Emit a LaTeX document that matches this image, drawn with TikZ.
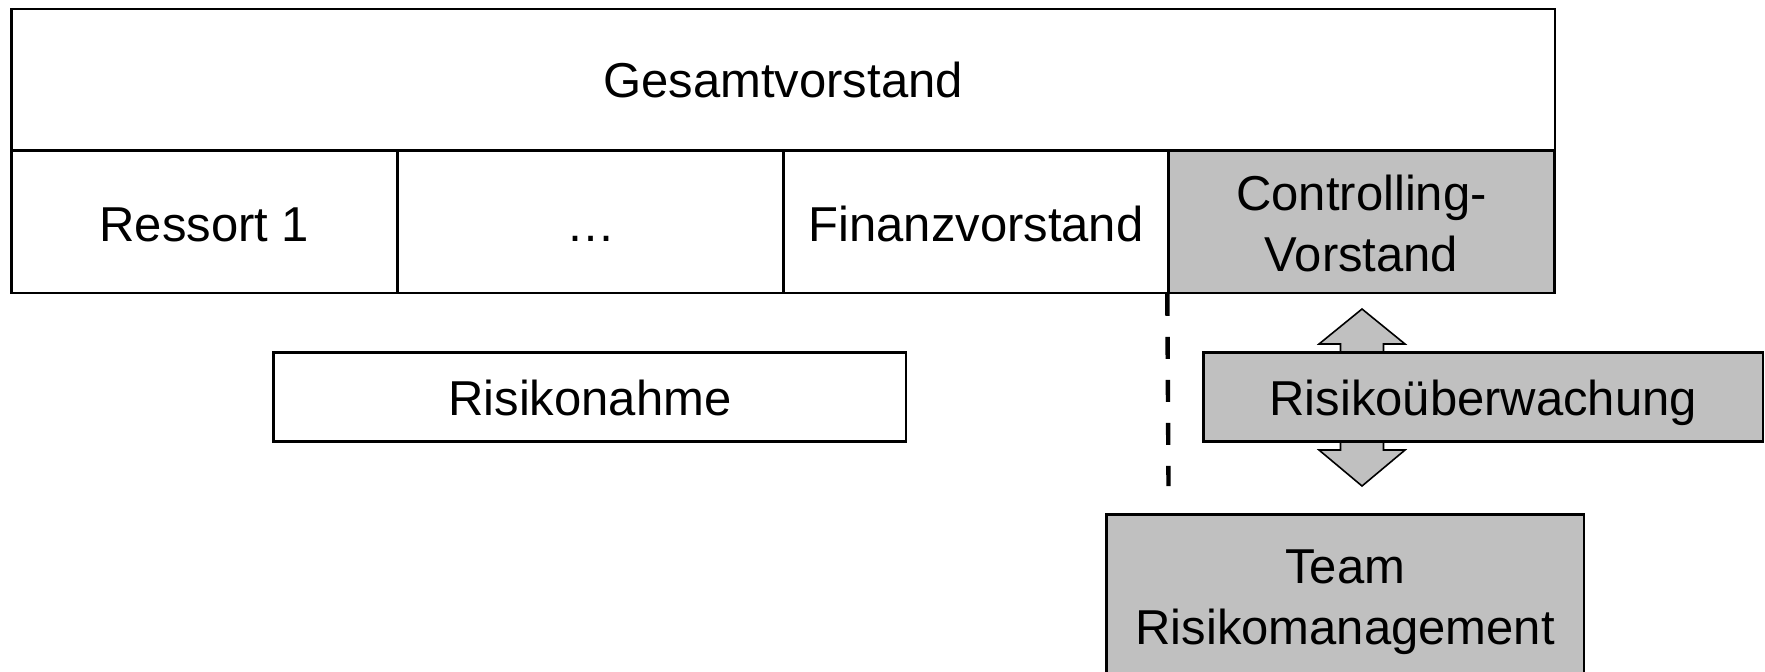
\documentclass[tikz,border=0pt]{standalone}
\usepackage{fontspec}
\setmainfont{Liberation Sans}
\usetikzlibrary{backgrounds}
\definecolor{boxgray}{RGB}{192,192,192}
\begin{document}
\begin{tikzpicture}[x=0.5pt,y=-0.5pt,
  cell/.style={draw=black, line width=1.2pt, inner sep=0pt, align=center,
    font=\fontsize{24.5}{30.5}\selectfont},
  oneline/.style={text height=#1, text depth=0pt},
  plain/.style={cell, fill=white},
  shaded/.style={cell, fill=boxgray},
  dashline/.style={line width=2.2pt, dash pattern=on 11pt off 10.5pt},
  dblarrow/.style={draw=black, fill=boxgray, line width=0.8pt, line join=miter}]
\useasboundingbox (0,0) rectangle (1765,671);

% board and its departments
\node[plain, oneline=17.5pt, minimum width=771.7pt, minimum height=70.8pt] (board) at (783,79.8) {Gesamtvorstand};
\node[plain, oneline=19.5pt, minimum width=193pt, minimum height=71pt] (res1) at (204.3,221.7) {Ressort 1};
\node[plain, oneline=19.5pt, minimum width=193pt, minimum height=71pt] (resx) at (590.5,221.7) {…};
\node[plain, oneline=19.5pt, minimum width=192.5pt, minimum height=71pt] (fin) at (976,221.7) {Finanzvorstand};
\node[shaded, minimum width=193pt, minimum height=71pt] (ctrl) at (1361.5,221.7)
  {\rule{0pt}{25pt}Controlling-\\Vorstand\rule[-5.5pt]{0pt}{0pt}};

% functions below the board
\node[plain, oneline=18.5pt, minimum width=316.3pt, minimum height=44.5pt] (take) at (589.9,396.8) {Risikonahme};
\node[shaded, oneline=18.5pt, minimum width=279.8pt, minimum height=44.5pt] (watch) at (1483.2,396.8) {Risikoüberwachung};
\node[shaded, minimum width=238.7pt, minimum height=83.3pt] (team) at (1345.2,597.8)
  {\rule{0pt}{21.2pt}Team\\Risikomanagement\rule[-5.5pt]{0pt}{0pt}};

% two-headed arrow passing behind the monitoring box
\begin{scope}[on background layer]
  \draw[dblarrow] (1362,309) -- (1405,344) -- (1383.5,344) -- (1383.5,450)
    -- (1405,450) -- (1362,486) -- (1319,450) -- (1340.5,450)
    -- (1340.5,344) -- (1319,344) -- cycle;
\end{scope}

% separation between risk taking and risk monitoring
\coordinate (sepend) at (1168.5,486);
\draw[dashline] (ctrl.south west) -- (sepend);
\end{tikzpicture}
\end{document}
